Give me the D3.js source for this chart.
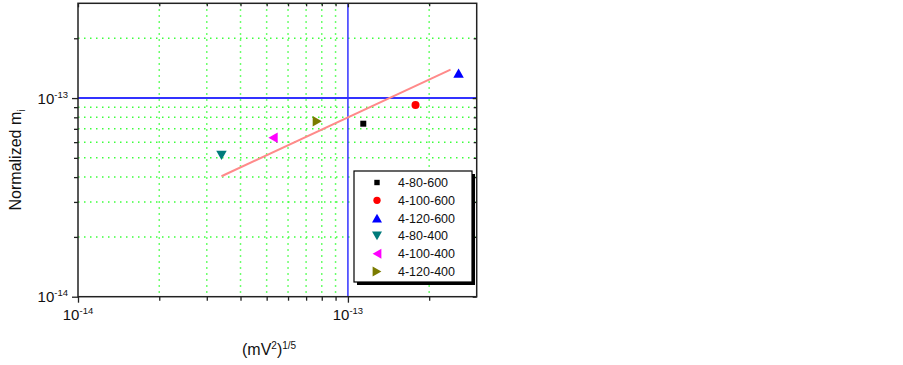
<!DOCTYPE html>
<html>
<head>
<meta charset="utf-8">
<script src="https://cdn.jsdelivr.net/npm/d3@7"></script>
<style>
  body { margin: 0; background: #fff; }
  text { font-family: "Liberation Sans", Arial, sans-serif; }
</style>
</head>
<body>
<div id="chart"></div>
<script>
// data
const seriesNames = ["4-80-600", "4-100-600", "4-120-600", "4-80-400", "4-100-400", "4-120-400"];
const xValues = [1.14e-13, 1.78e-13, 2.57e-13, 3.40e-14, 5.28e-14, 7.70e-14];
const yValues = [7.43e-14, 9.22e-14, 1.335e-13, 5.15e-14, 6.32e-14, 7.64e-14];
const colors = ["#000000", "#ff0000", "#0000ff", "#007b7b", "#ff00ff", "#7b7b00"];
const symbols = ["square", "circle", "up", "down", "left", "right"];

// fitted line end points
const fitX = [3.40e-14, 2.40e-13];
const fitY = [4.04e-14, 1.39e-13];

const majorTicks = [1e-14, 1e-13];
const minorTicks = [2e-14, 3e-14, 4e-14, 5e-14, 6e-14, 7e-14, 8e-14, 9e-14, 2e-13];
const majorLabels = ["-14", "-13"];
const refValue = 1e-13;

const width = 903, height = 365;
const pLeft = 78, pRight = 476.7, pTop = 3.3, pBottom = 296.7;

const svg = d3.select("#chart").append("svg")
    .attr("width", width)
    .attr("height", height);

let x = d3.scaleLog().domain([1e-14, 3e-13]).range([pLeft, pRight]);
let y = d3.scaleLog().domain([1e-14, 3e-13]).range([pBottom, pTop]);

// green dotted grid
let grid = svg.append("g")
    .attr("stroke", "#3cff3c")
    .attr("stroke-width", 1.5)
    .attr("stroke-dasharray", "1.5,4.5");
grid.selectAll(".gx")
    .data(minorTicks)
    .enter()
    .append("line")
    .attr("x1", d => x(d)).attr("x2", d => x(d))
    .attr("y1", pTop).attr("y2", pBottom);
grid.selectAll(".gy")
    .data(minorTicks)
    .enter()
    .append("line")
    .attr("y1", d => y(d)).attr("y2", d => y(d))
    .attr("x1", pLeft).attr("x2", pRight);

// blue reference lines at 1e-13
svg.append("line")
    .attr("x1", x(refValue)).attr("x2", x(refValue))
    .attr("y1", pTop).attr("y2", pBottom)
    .attr("stroke", "#3333ff").attr("stroke-width", 1.5);
svg.append("line")
    .attr("x1", pLeft).attr("x2", pRight)
    .attr("y1", y(refValue)).attr("y2", y(refValue))
    .attr("stroke", "#3333ff").attr("stroke-width", 2);

// axes: ticks only, labels added by hand (superscripts)
function tickAxis(gen, vals, size, tx, ty) {
    let g = svg.append("g")
        .attr("transform", "translate(" + tx + "," + ty + ")")
        .call(gen.tickValues(vals).tickFormat("").tickSize(size).tickSizeOuter(0));
    g.select(".domain").remove();
    g.selectAll("line").attr("stroke", "#222").attr("stroke-width", 1.3);
    return g;
}
tickAxis(d3.axisBottom(x), minorTicks, 4, 0, pBottom);
tickAxis(d3.axisBottom(x), majorTicks, 6, 0, pBottom);
tickAxis(d3.axisLeft(y), minorTicks, 4, pLeft, 0);
tickAxis(d3.axisLeft(y), majorTicks, 6, pLeft, 0);
tickAxis(d3.axisTop(x), minorTicks, -3, 0, pTop);
tickAxis(d3.axisTop(x), majorTicks, -4, 0, pTop);
tickAxis(d3.axisRight(y), minorTicks, -3, pRight, 0);
tickAxis(d3.axisRight(y), majorTicks, -4, pRight, 0);

// frame
svg.append("rect")
    .attr("x", pLeft).attr("y", pTop)
    .attr("width", pRight - pLeft).attr("height", pBottom - pTop)
    .attr("fill", "none")
    .attr("stroke", "#222")
    .attr("stroke-width", 1.5);

// tick labels
majorTicks.forEach((v, i) => {
    let t = svg.append("text")
        .attr("x", x(v))
        .attr("y", pBottom + 23)
        .attr("text-anchor", "middle")
        .style("font-size", "15px")
        .style("fill", "#111");
    t.append("tspan").text("10");
    t.append("tspan").text(majorLabels[i]).attr("dy", -6).style("font-size", "9.5px");

    let t2 = svg.append("text")
        .attr("x", pLeft - 10)
        .attr("y", y(v) + 5.5)
        .attr("text-anchor", "end")
        .style("font-size", "15px")
        .style("fill", "#111");
    t2.append("tspan").text("10");
    t2.append("tspan").text(majorLabels[i]).attr("dy", -6).style("font-size", "9.5px");
});

// axis titles
let yt = svg.append("text")
    .attr("transform", "translate(21," + 160 + "), rotate(-90)")
    .attr("text-anchor", "middle")
    .style("font-size", "16px")
    .style("fill", "#111");
yt.append("tspan").text("Normalized m");
yt.append("tspan").text("i").attr("dy", 4).style("font-size", "10px");

let xt = svg.append("text")
    .attr("x", 242)
    .attr("y", 355)
    .style("font-size", "16px")
    .style("fill", "#111");
xt.append("tspan").text("(mV");
xt.append("tspan").text("2").attr("dy", -6).style("font-size", "10px");
xt.append("tspan").text(")").attr("dy", 6);
xt.append("tspan").text("1/5").attr("dy", -6).style("font-size", "10px");

// fit line
let line = d3.line().x(d => x(d[0])).y(d => y(d[1]));
svg.append("path")
    .datum(fitX.map((v, i) => [v, fitY[i]]))
    .attr("d", line)
    .attr("fill", "none")
    .attr("stroke", "#ff8a8a")
    .attr("stroke-width", 2);

// marker shapes
function marker(sym, r) {
    if (sym === "square") return "M" + (-r) + "," + (-r) + "h" + 2 * r + "v" + 2 * r + "h" + (-2 * r) + "Z";
    if (sym === "circle") return d3.symbol().type(d3.symbolCircle).size(Math.PI * r * r * 1.3)();
    let h = r * 1.1, w = r * 1.25;
    if (sym === "up") return "M0," + (-h) + "L" + w + "," + h + "L" + (-w) + "," + h + "Z";
    if (sym === "down") return "M0," + h + "L" + w + "," + (-h) + "L" + (-w) + "," + (-h) + "Z";
    if (sym === "left") return "M" + (-h) + ",0L" + h + "," + (-w) + "L" + h + "," + w + "Z";
    return "M" + h + ",0L" + (-h) + "," + (-w) + "L" + (-h) + "," + w + "Z";
}
const markerR = [3, 3.5, 4.2, 4.2, 4.2, 4.2];

svg.selectAll(".pt")
    .data(seriesNames)
    .enter()
    .append("path")
    .attr("transform", (d, i) => "translate(" + x(xValues[i]) + "," + y(yValues[i]) + ")")
    .attr("d", (d, i) => marker(symbols[i], markerR[i]))
    .style("fill", (d, i) => colors[i]);

// legend
let lg = svg.append("g").attr("transform", "translate(354,171)");
lg.append("rect")
    .attr("x", 3).attr("y", 3)
    .attr("width", 118).attr("height", 111)
    .style("fill", "#000");
lg.append("rect")
    .attr("width", 118).attr("height", 111)
    .style("fill", "#fff")
    .style("stroke", "#000")
    .style("stroke-width", 1.2);
let rows = lg.selectAll(".row")
    .data(seriesNames)
    .enter()
    .append("g")
    .attr("transform", (d, i) => "translate(0," + (11.5 + i * 17.8) + ")");
rows.append("path")
    .attr("transform", "translate(23,0)")
    .attr("d", (d, i) => marker(symbols[i], i < 2 ? markerR[i] - 0.3 : 4))
    .style("fill", (d, i) => colors[i]);
rows.append("text")
    .attr("x", 44)
    .attr("y", 4.5)
    .style("font-size", "12.5px")
    .style("fill", "#111")
    .text(d => d);
</script>
</body>
</html>
